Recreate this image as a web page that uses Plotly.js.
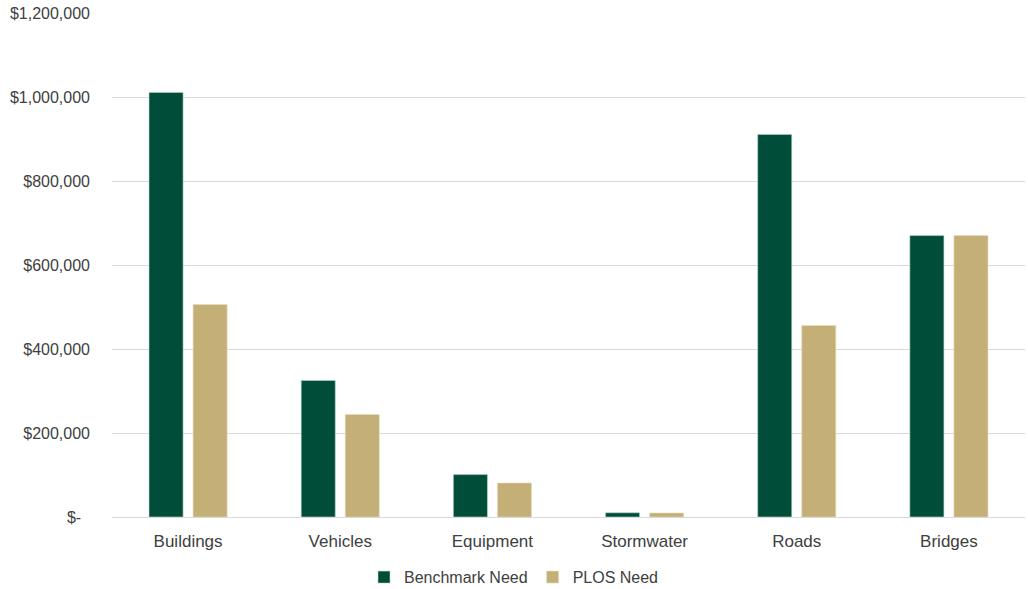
<!DOCTYPE html>
<html>
<head>
<meta charset="utf-8">
<script src="https://cdn.plot.ly/plotly-3.0.1.min.js"></script>
<style>html,body{margin:0;padding:0;background:#fff;}#chart{width:1028px;height:589px;}</style>
</head>
<body>
<div id="chart"></div>
<script>
const categories = ["Buildings", "Vehicles", "Equipment", "Stormwater", "Roads", "Bridges"];
const benchmarkNeed = [1011000, 325000, 101000, 10000, 911000, 670000];
const plosNeed = [506000, 244000, 81000, 9500, 456000, 670000];
const tickValues = [0, 200000, 400000, 600000, 800000, 1000000, 1200000];
const tickLabels = ["$-\u00a0\u00a0", "$200,000", "$400,000", "$600,000", "$800,000", "$1,000,000", "$1,200,000"];

const fontFam = "'Liberation Sans', Arial, sans-serif";
const data = [
  {type: "bar", name: "Benchmark Need", x: categories, y: benchmarkNeed,
   marker: {color: "#004D3A", line: {color: "#b9d3cc", width: 0.6}}},
  {type: "bar", name: "PLOS Need", x: categories, y: plosNeed,
   marker: {color: "#C4AF76", line: {color: "#e6dcc0", width: 0.6}}}
];
const layout = {
  width: 1028, height: 589,
  margin: {l: 112, r: 3, t: 13, b: 72, autoexpand: false},
  paper_bgcolor: "#fff", plot_bgcolor: "#fff",
  font: {family: fontFam, size: 16, color: "#404040"},
  barmode: "group", bargap: 0.421, bargroupgap: 0.227,
  showlegend: true,
  legend: {orientation: "h", x: 0.5, xanchor: "center", xref: "container",
           y: 0.02, yanchor: "middle", yref: "container",
           font: {size: 16, color: "#404040"}, itemwidth: 30},
  xaxis: {type: "category", showgrid: false, zeroline: false, showline: false,
          ticks: "", ticklabelstandoff: 12, tickfont: {size: 17, color: "#404040"}},
  yaxis: {range: [0, 1200000], tickvals: tickValues, ticktext: tickLabels,
          showgrid: true, gridcolor: "#d9d9d9", gridwidth: 1.2, zeroline: true,
          zerolinecolor: "#d9d9d9", zerolinewidth: 1.2, showline: false, ticks: "",
          ticklabelstandoff: 21, tickfont: {size: 16, color: "#404040"}}
};
Plotly.newPlot("chart", data, layout, {displayModeBar: false});
</script>
</body>
</html>
